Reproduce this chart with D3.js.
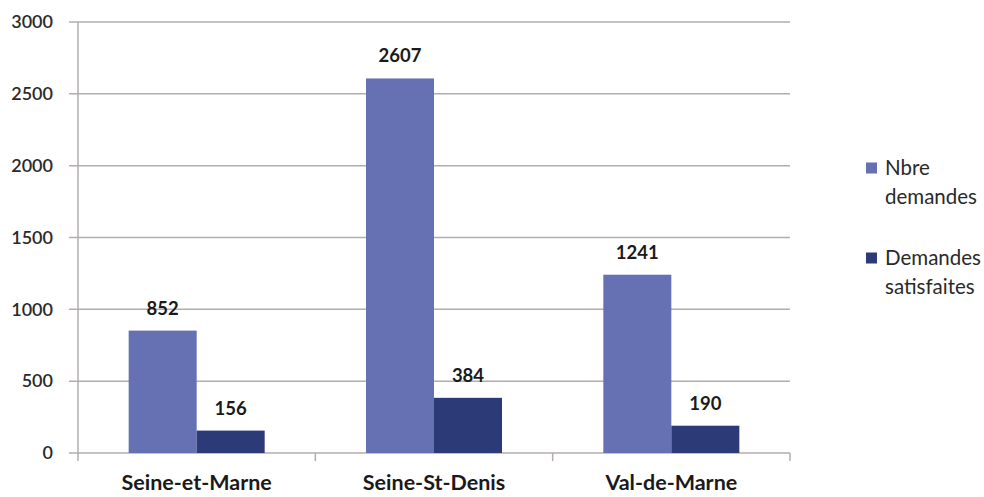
<!DOCTYPE html>
<html><head><meta charset="utf-8">
<script src="https://cdn.jsdelivr.net/npm/d3@7"></script>
<style>body{margin:0;background:#fff}svg{display:block}text{font-family:Lato,"Open Sans",sans-serif}</style>
</head><body>
<svg id="c" width="984" height="497"></svg>
<script>
const categories = ["Seine-et-Marne", "Seine-St-Denis", "Val-de-Marne"];
const seriesNames = ["Nbre demandes", "Demandes satisfaites"];
const nbreDemandes = [852, 2607, 1241];
const demandesSatisfaites = [156, 384, 190];
const yTicks = [0, 500, 1000, 1500, 2000, 2500, 3000];
const colors = ["#6571b3", "#2c3a78"];

const svg = d3.select("#c");
const m = {left: 78, right: 194, top: 22, bottom: 44};
const W = 984, H = 497;
const x0 = d3.scaleBand().domain(categories).range([m.left, W - m.right]).paddingInner(0).paddingOuter(0);
const y = d3.scaleLinear().domain([0, 3000]).range([H - m.bottom, m.top]);
const x1 = d3.scaleBand().domain([0, 1]).range([(x0.bandwidth() - 136) / 2, (x0.bandwidth() + 136) / 2]);

// gridlines
svg.append("g").selectAll("line").data(yTicks).join("line")
  .attr("x1", m.left - 9).attr("x2", W - m.right)
  .attr("y1", d => y(d)).attr("y2", d => y(d))
  .attr("stroke", "#b3acb0").attr("stroke-width", 1.5);

// y axis line
svg.append("line").attr("x1", m.left).attr("x2", m.left).attr("y1", y(3000)).attr("y2", y(0) + 8)
  .attr("stroke", "#b3acb0").attr("stroke-width", 1.5);
// category ticks
const bounds = categories.map(c => x0(c) + x0.bandwidth());
svg.append("g").selectAll("line").data(bounds).join("line")
  .attr("x1", d => d).attr("x2", d => d).attr("y1", y(0)).attr("y2", y(0) + 8)
  .attr("stroke", "#b3acb0").attr("stroke-width", 1.5);

// y labels
svg.append("g").selectAll("text").data(yTicks).join("text")
  .attr("x", 53).attr("y", d => y(d)).attr("dy", "0.35em").attr("text-anchor", "end")
  .attr("font-size", 18).attr("font-weight", 600).attr("fill", "#2a2a2a").text(d => d);

const series = [nbreDemandes, demandesSatisfaites];
series.forEach((vals, si) => {
  const g = svg.append("g");
  g.selectAll("rect").data(vals).join("rect")
    .attr("x", (d, i) => x0(categories[i]) + x1(si)).attr("width", x1.bandwidth())
    .attr("y", d => y(d)).attr("height", d => y(0) - y(d)).attr("fill", colors[si]);
  g.selectAll("text").data(vals).join("text")
    .attr("x", (d, i) => x0(categories[i]) + x1(si) + x1.bandwidth() / 2)
    .attr("y", d => y(d) - 16).attr("text-anchor", "middle")
    .attr("font-size", 18.5).attr("font-weight", 700).attr("fill", "#1a1a1a").text(d => d);
});

// category labels
svg.append("g").selectAll("text").data(categories).join("text")
  .attr("x", d => x0(d) + x0.bandwidth() / 2).attr("y", 490).attr("text-anchor", "middle")
  .attr("font-size", 21.5).attr("font-weight", 700).attr("fill", "#1a1a1a").text(d => d);

// legend
const legendLines = [["Nbre", "demandes"], ["Demandes", "satisfaites"]];
const legendY = [168, 258];
legendLines.forEach((lines, i) => {
  const g = svg.append("g");
  g.append("rect").attr("x", 866).attr("y", legendY[i] - 5.5).attr("width", 11).attr("height", 11).attr("fill", colors[i]);
  lines.forEach((t, j) => g.append("text").attr("x", 885).attr("y", legendY[i] + j * 29).attr("dy", "0.35em")
    .attr("font-size", 20.5).attr("fill", "#2a2a2a").text(t));
});
</script>
</body></html>
